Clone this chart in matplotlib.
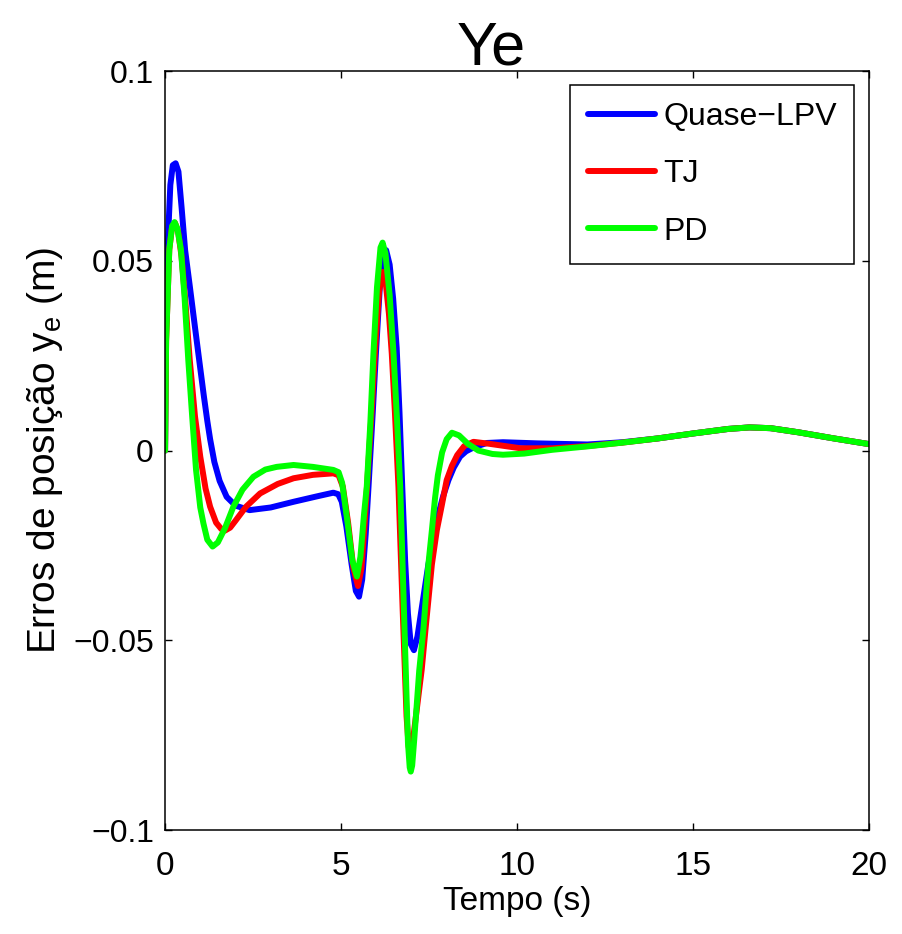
import numpy as np
import matplotlib
matplotlib.use("Agg")
import matplotlib.pyplot as plt

# %% data (tempo in s, erro in m)
t_lpv = [0, 0.02, 0.07, 0.15, 0.22, 0.30, 0.38, 0.47, 0.57, 0.7, 0.85, 0.97, 1.1, 1.2, 1.28,
         1.4, 1.55, 1.75, 2.0, 2.4, 3.0, 3.65, 4.3, 4.78, 4.92, 5.02, 5.15, 5.3, 5.42, 5.51,
         5.6, 5.7, 5.78, 5.9, 5.99, 6.1, 6.2, 6.28, 6.38, 6.48, 6.58, 6.66, 6.74, 6.82, 6.9,
         6.98, 7.07, 7.17, 7.3, 7.48, 7.63, 7.77, 7.9, 8.05, 8.2, 8.38, 8.55, 8.76, 9.14,
         9.6, 10.56, 12.0, 13.0, 14.0, 15.0, 16.0, 16.6, 17.2, 18.0, 19.0, 20.0]
e_lpv = [0, 0.030, 0.053, 0.070, 0.0752, 0.0757, 0.0735, 0.064, 0.0528, 0.0435, 0.0325,
         0.0238, 0.0145, 0.0078, 0.0030, -0.0030, -0.0080, -0.0122, -0.0145, -0.0157,
         -0.0150, -0.0135, -0.0121, -0.0111, -0.0115, -0.0135, -0.020, -0.030, -0.037,
         -0.0385, -0.034, -0.022, -0.0095, 0.010, 0.0256, 0.043, 0.0515, 0.0528, 0.049,
         0.040, 0.027, 0.010, -0.010, -0.029, -0.043, -0.051, -0.0526, -0.049, -0.041,
         -0.030, -0.023, -0.0166, -0.012, -0.0078, -0.0045, -0.0016, -0.0002, 0.0008,
         0.0020, 0.0022, 0.0019, 0.0016, 0.0022, 0.0032, 0.0045, 0.0057, 0.0061, 0.0059,
         0.0048, 0.0032, 0.0017]

t_tj = [0, 0.03, 0.12, 0.2, 0.28, 0.37, 0.47, 0.57, 0.7, 0.85, 1.0, 1.15, 1.28, 1.45, 1.6,
        1.7, 1.85, 2.0, 2.3, 2.7, 3.2, 3.65, 4.2, 4.78, 4.93, 5.05, 5.2, 5.35, 5.48, 5.58,
        5.68, 5.76, 5.88, 5.97, 6.08, 6.18, 6.27, 6.36, 6.44, 6.53, 6.63, 6.75, 6.86, 6.92,
        6.96, 7.0, 7.06, 7.18, 7.29, 7.40, 7.58, 7.72, 7.86, 8.0, 8.15, 8.3, 8.5, 8.76,
        9.2, 10.1, 11.0, 12.0, 13.0, 14.0, 15.0, 16.0, 16.6, 17.2, 18.0, 19.0, 20.0]
e_tj = [0, 0.029, 0.053, 0.0590, 0.0600, 0.0578, 0.051, 0.040, 0.024, 0.009, -0.0016,
        -0.010, -0.0148, -0.0190, -0.0207, -0.0211, -0.0203, -0.0185, -0.0148, -0.0113,
        -0.0088, -0.0073, -0.0064, -0.0060, -0.0065, -0.0095, -0.019, -0.031, -0.0357,
        -0.031, -0.018, -0.0060, 0.012, 0.027, 0.042, 0.0471, 0.044, 0.036, 0.0256, 0.010,
        -0.0095, -0.042, -0.070, -0.078, -0.0798, -0.079, -0.075, -0.066, -0.0578, -0.047,
        -0.030, -0.021, -0.0145, -0.0078, -0.0040, -0.0012, 0.0012, 0.0023, 0.0018, 0.0006,
        0.0006, 0.0012, 0.0021, 0.0032, 0.0045, 0.0057, 0.0061, 0.0059, 0.0048, 0.0032,
        0.0017]

t_pd = [0, 0.03, 0.12, 0.2, 0.27, 0.35, 0.45, 0.55, 0.66, 0.77, 0.88, 1.0, 1.09, 1.2, 1.35,
        1.5, 1.7, 1.94, 2.2, 2.51, 2.85, 3.17, 3.65, 4.2, 4.78, 4.93, 5.03, 5.17, 5.32, 5.45,
        5.55, 5.65, 5.73, 5.83, 5.92, 6.02, 6.12, 6.18, 6.26, 6.38, 6.49, 6.59, 6.68, 6.78,
        6.9, 6.95, 6.98, 7.02, 7.08, 7.22, 7.34, 7.48, 7.58, 7.67, 7.75, 7.87, 8.0, 8.15,
        8.35, 8.6, 8.9, 9.3, 9.6, 10.2, 11.0, 12.0, 13.0, 14.0, 15.0, 16.0, 16.6, 17.2,
        18.0, 19.0, 20.0]
e_pd = [0, 0.029, 0.053, 0.0592, 0.0602, 0.0585, 0.053, 0.041, 0.0238, 0.009, -0.0051,
        -0.0150, -0.0192, -0.0235, -0.0253, -0.0242, -0.0205, -0.0148, -0.0103, -0.0069,
        -0.0050, -0.0043, -0.0038, -0.0043, -0.0051, -0.0057, -0.0085, -0.018, -0.029,
        -0.0332, -0.028, -0.017, -0.0095, 0.007, 0.0256, 0.043, 0.0535, 0.0548, 0.052,
        0.041, 0.0256, 0.008, -0.0095, -0.040, -0.077, -0.0835, -0.0846, -0.083, -0.076,
        -0.058, -0.047, -0.030, -0.021, -0.0125, -0.0065, -0.0005, 0.0030, 0.0047, 0.0040,
        0.0018, 0.0000, -0.0009, -0.0011, -0.0008, 0.0002, 0.0011, 0.0021, 0.0032, 0.0045,
        0.0057, 0.0061, 0.0059, 0.0048, 0.0032, 0.0017]

labels = ['Quase\u2212LPV', 'TJ', 'PD']
colors = ['#0000ff', '#ff0000', '#00ff00']
x_ticks = [0, 5, 10, 15, 20]
y_ticks = [-0.1, -0.05, 0, 0.05, 0.1]
y_ticklabels = ['\u22120.1', '\u22120.05', '0', '0.05', '0.1']

# %% plot
font = ['Liberation Sans', 'DejaVu Sans']

fig = plt.figure(figsize=(9.02, 9.34), dpi=100)
ax = fig.add_axes([0.183, 0.1113, 0.7805, 0.8126])

series = [(t_lpv, e_lpv), (t_tj, e_tj), (t_pd, e_pd)]
for (t, e), lab, c in zip(series, labels, colors):
    ax.plot(t, e, color=c, lw=4.3, label=lab, solid_joinstyle='round',
            solid_capstyle='round')

ax.set_xlim(0, 20)
ax.set_ylim(-0.1, 0.1)
ax.set_xticks(x_ticks)
ax.set_yticks(y_ticks)
ax.set_xticklabels([str(v) for v in x_ticks], family=font, fontsize=24)
ax.set_yticklabels(y_ticklabels, family=font, fontsize=23)
ax.tick_params(direction='in', length=5, width=1, top=True, right=True)
ax.tick_params(axis='x', pad=15)
ax.tick_params(axis='y', pad=8)
for s in ax.spines.values():
    s.set_linewidth(1.1)

ax.set_xlabel('Tempo (s)', family=font, fontsize=24, labelpad=3)
ax.set_ylabel('Erros de posição y$_\\mathregular{e}$ (m)', family=font, fontsize=28,
              labelpad=6)
ax.set_title('Ye', family=font, fontsize=44, x=0.463, pad=5)

leg = ax.legend(loc='upper right', bbox_to_anchor=(0.979, 0.982), borderaxespad=0,
                prop={'family': font, 'size': 23}, fancybox=False, framealpha=1,
                edgecolor='black', handlelength=2.1, handletextpad=0.25,
                labelspacing=0.85, borderpad=0.55)
leg.get_frame().set_linewidth(1.1)

plt.savefig('out.png', dpi=100)
